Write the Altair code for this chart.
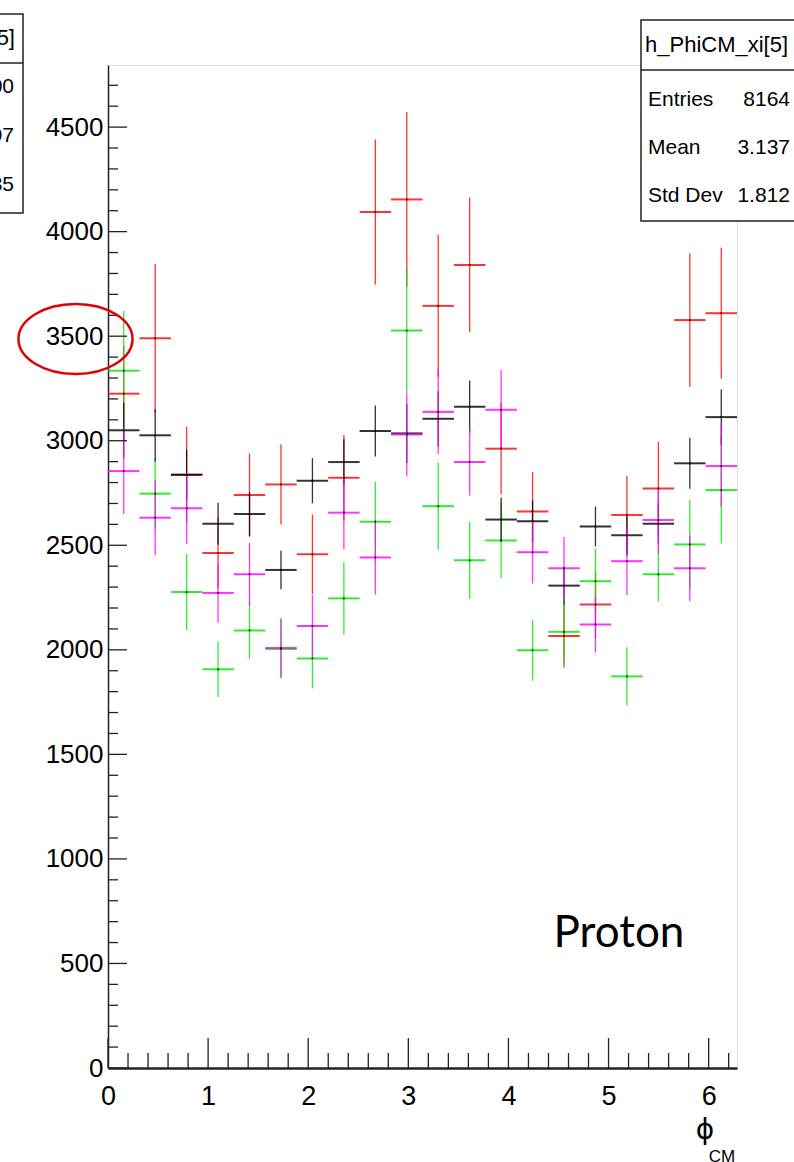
import altair as alt
import numpy as np
import pandas as pd

# 20 bins of phi_CM over [0, 2*pi]
N_BINS = 20
PHI_MAX = 2 * np.pi
BIN_W = PHI_MAX / N_BINS

series_names = ["red", "green", "black", "magenta"]
series_colors = ["#ff0000", "#00e600", "#000000", "#ff00ff"]

red_counts = [3225, 3490, 2837, 2463, 2740, 2791, 2457, 2823, 4094, 4154,
              3645, 3841, 2962, 2662, 2066, 2217, 2645, 2771, 3577, 3610]
red_errors = [230, 355, 230, 170, 200, 192, 190, 205, 347, 418,
              340, 322, 218, 189, 152, 160, 186, 225, 320, 313]

green_counts = [3335, 2747, 2276, 1907, 2093, 2004, 1959, 2246, 2613, 3527,
                2687, 2428, 2523, 1998, 2086, 2328, 1873, 2361, 2504, 2764]
green_errors = [287, 170, 182, 133, 137, 140, 143, 173, 190, 300,
                208, 185, 180, 146, 150, 156, 139, 130, 212, 255]

black_counts = [3050, 3026, 2837, 2603, 2649, 2382, 2809, 2898, 3046, 3035,
                3105, 3163, 2623, 2615, 2307, 2590, 2548, 2603, 2892, 3113]
black_errors = [133, 125, 120, 100, 105, 92, 108, 109, 122, 142,
                132, 125, 105, 99, 90, 95, 97, 100, 122, 133]

magenta_counts = [2855, 2632, 2677, 2272, 2362, 2009, 2114, 2656, 2442, 3030,
                  3138, 2898, 3148, 2467, 2390, 2121, 2424, 2621, 2390, 2879]
magenta_errors = [205, 180, 170, 142, 150, 143, 148, 175, 177, 197,
                  203, 160, 190, 150, 149, 133, 162, 160, 158, 195]

x_tick_labels = [0, 1, 2, 3, 4, 5, 6]
y_tick_labels = [0, 500, 1000, 1500, 2000, 2500, 3000, 3500, 4000, 4500]
Y_MAX = 4797

stats_title = "h_PhiCM_xi[5]"
stats_rows = [("Entries", "8164"), ("Mean", "3.137"), ("Std Dev", "1.812")]
left_stats_rows = [("Entries", "8700"), ("Mean", "3.097"), ("Std Dev", "1.835")]

W, H = 629, 1003
AXIS_FONT = "Liberation Sans"

rows = []
all_counts = [red_counts, green_counts, black_counts, magenta_counts]
all_errors = [red_errors, green_errors, black_errors, magenta_errors]
for k, name in enumerate(series_names):
    for i in range(N_BINS):
        c, e = all_counts[k][i], all_errors[k][i]
        rows.append({
            "series": name, "order": k,
            "lo": i * BIN_W, "hi": (i + 1) * BIN_W, "center": (i + 0.5) * BIN_W,
            "count": c, "err_lo": c - e, "err_hi": c + e,
        })
hist = pd.DataFrame(rows)

xscale = alt.Scale(domain=[0, PHI_MAX], nice=False, zero=False)
yscale = alt.Scale(domain=[0, Y_MAX], nice=False)
color = alt.Color("series:N", scale=alt.Scale(domain=series_names, range=series_colors),
                  legend=None)

x_axis = alt.Axis(values=x_tick_labels, ticks=False, grid=False, title=None,
                  labelFont=AXIS_FONT, labelFontSize=27, labelColor="black",
                  labelPadding=15, labelFlush=False, labelOverlap=False,
                  domainColor="#222", domainWidth=2.5, format="d")
y_axis = alt.Axis(values=y_tick_labels, ticks=False, grid=False, title=None,
                  labelFont=AXIS_FONT, labelFontSize=26, labelColor="black",
                  labelPadding=5, labelOverlap=False, labelFlush=False,
                  domainColor="#222", domainWidth=1.5, format="d")

base = alt.Chart(hist)

hbars = base.mark_rule(strokeWidth=2, opacity=0.8).encode(
    x=alt.X("lo:Q", scale=xscale, axis=x_axis),
    x2="hi:Q",
    y=alt.Y("count:Q", scale=yscale, axis=y_axis),
    color=color,
    order="order:Q",
)
vbars = base.mark_rule(strokeWidth=1.3, opacity=0.8).encode(
    x=alt.X("center:Q", scale=xscale),
    y=alt.Y("err_lo:Q", scale=yscale),
    y2="err_hi:Q",
    color=color,
    order="order:Q",
)
dots = base.mark_square(size=3, color="black", opacity=0.8).encode(
    x=alt.X("center:Q", scale=xscale),
    y=alt.Y("count:Q", scale=yscale),
)

# inward ROOT-style ticks
y_major = pd.DataFrame({"v": y_tick_labels})
y_minor = pd.DataFrame({"v": [v for v in range(0, 4800, 100) if v % 500]})
x_major = pd.DataFrame({"v": x_tick_labels})
x_minor = pd.DataFrame({"v": [round(0.2 * j, 1) for j in range(32) if j % 5]})

tick_style = dict(color="#222", strokeWidth=1.3)
ticks = [
    alt.Chart(y_major).mark_rule(**tick_style).encode(
        y=alt.Y("v:Q", scale=yscale), x=alt.value(0), x2=alt.value(19)),
    alt.Chart(y_minor).mark_rule(**tick_style).encode(
        y=alt.Y("v:Q", scale=yscale), x=alt.value(0), x2=alt.value(10)),
    alt.Chart(x_major).mark_rule(**tick_style).encode(
        x=alt.X("v:Q", scale=xscale), y=alt.value(H), y2=alt.value(H - 30)),
    alt.Chart(x_minor).mark_rule(**tick_style).encode(
        x=alt.X("v:Q", scale=xscale), y=alt.value(H), y2=alt.value(H - 15)),
]

one = pd.DataFrame({"a": [0]})

def box(x1, x2, y1, y2, divider_y):
    frame = alt.Chart(one).mark_rect(fill="white", stroke="#222", strokeWidth=1.5).encode(
        x=alt.value(x1), x2=alt.value(x2), y=alt.value(y1), y2=alt.value(y2))
    div = alt.Chart(one).mark_rule(color="#222", strokeWidth=1.5).encode(
        x=alt.value(x1), x2=alt.value(x2), y=alt.value(divider_y))
    return [frame, div]

def label(text, x, y, size, align="left", font=AXIS_FONT, baseline="middle"):
    return alt.Chart(one).mark_text(text=text, align=align, baseline=baseline,
                                    font=font, fontSize=size, color="black").encode(
        x=alt.value(x), y=alt.value(y))

# stats box on the right
stats = box(533, 720, -45, 156, 5)
stats.append(label(stats_title, 537, -20, 22, align="left"))
for j, (name, val) in enumerate(stats_rows):
    stats.append(label(name, 540, 35 + 48 * j, 21))
    stats.append(label(val, 682, 35 + 48 * j, 21, align="right"))

# neighbouring stats box on the left
left_stats = box(-300, -85, -51, 148, -2)
left_stats.append(label(stats_title, -93, -27, 22, align="right"))
for j, (name, val) in enumerate(left_stats_rows):
    left_stats.append(label(name, -230, 22 + 49 * j, 21))
    left_stats.append(label(val, -94, 22 + 49 * j, 21, align="right"))

# annotations
ellipse_path = ("M -1.63 0 C -1.63 -0.5523 -0.9 -1 0 -1 C 0.9 -1 1.63 -0.5523 1.63 0 "
                "C 1.63 0.5523 0.9 1 0 1 C -0.9 1 -1.63 0.5523 -1.63 0 Z")
ellipse = alt.Chart(one).mark_point(shape=ellipse_path, size=4900, filled=False,
                                    stroke="#e00000", strokeWidth=2.5, opacity=1).encode(
    x=alt.value(-32.5), y=alt.value(274))

proton = label("Proton", 511, 882, 44, align="center", font="Lato", baseline="alphabetic")
phi = label("ϕ", 597, 1066, 28, align="center", font="DejaVu Sans")
cm = label("CM", 614, 1092, 17, align="center")

chart = alt.layer(
    hbars, vbars, dots, *ticks, *stats, *left_stats, ellipse, proton, phi, cm
).properties(
    width=W, height=H,
    autosize=alt.AutoSizeParams(type="none"),
    padding={"left": 108, "top": 65, "right": 57, "bottom": 94},
).configure_view(
    stroke="#333", strokeWidth=1.5
).configure(background="white")

chart.save("out.html", embed_options={"renderer": "svg", "actions": False})
